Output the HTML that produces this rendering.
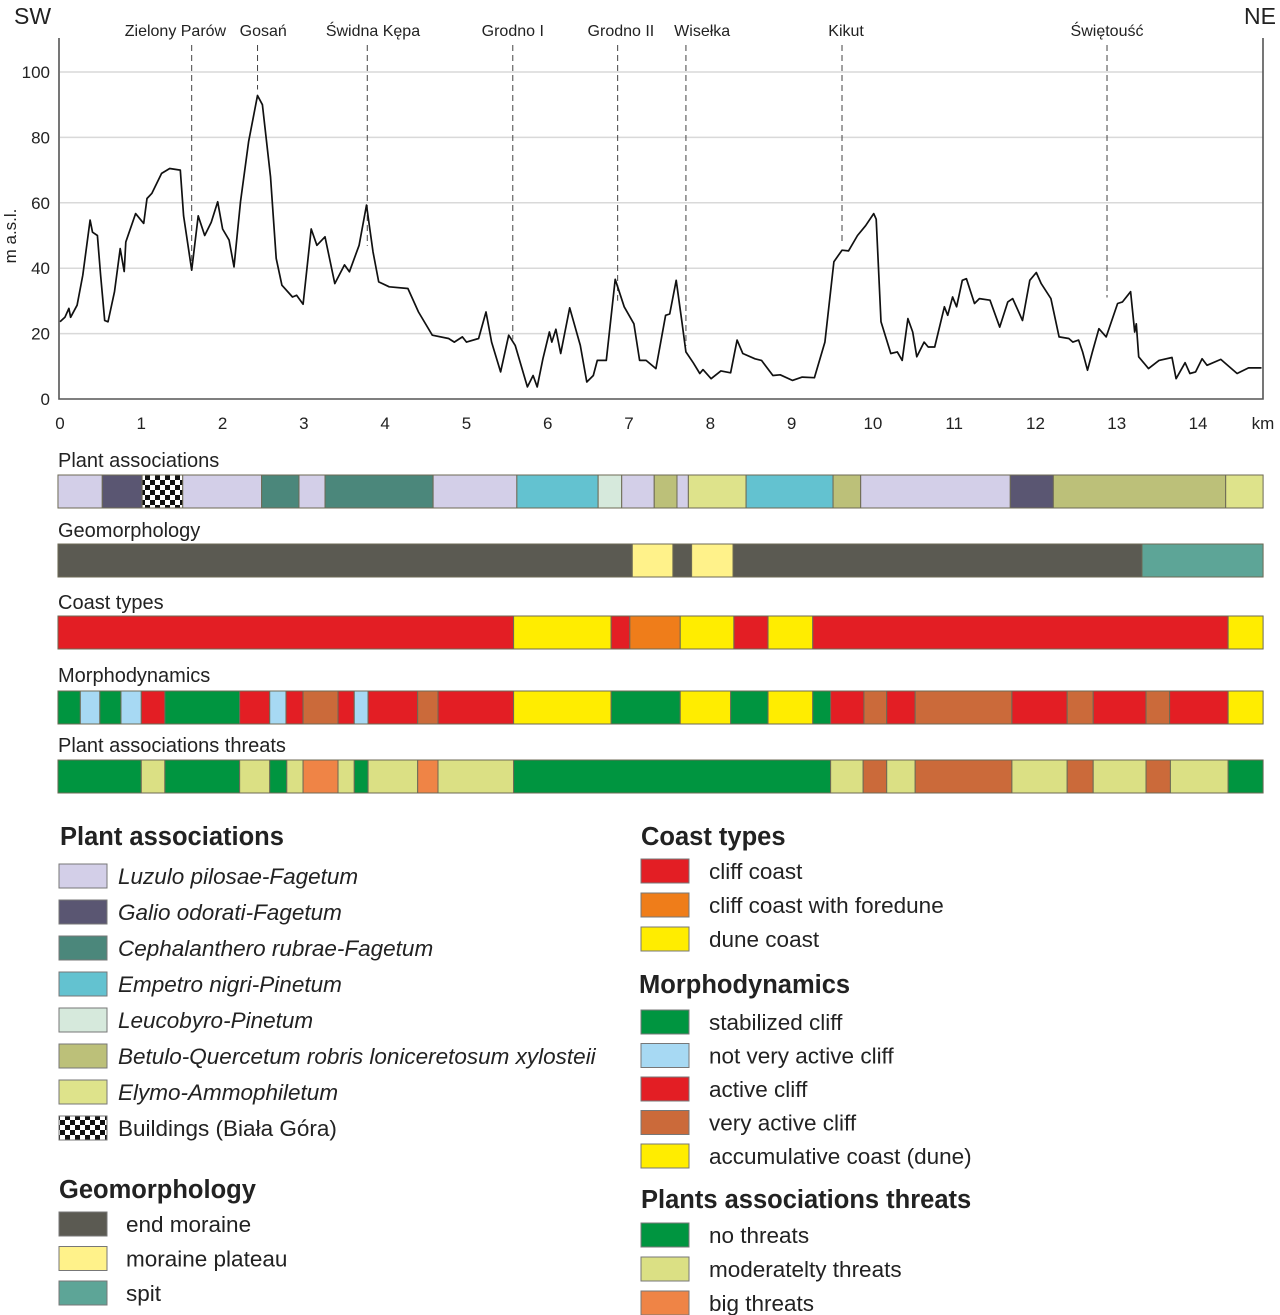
<!DOCTYPE html>
<html><head><meta charset="utf-8">
<style>
html,body{margin:0;padding:0;background:#fff;}
svg{display:block;font-family:"Liberation Sans",Arial,sans-serif;}
</style></head>
<body>
<svg id="chart" width="1280" height="1315" viewBox="0 0 1280 1315" xmlns="http://www.w3.org/2000/svg">
<defs>
<pattern id="checker" x="0" y="0" width="10" height="10" patternUnits="userSpaceOnUse">
<rect width="10" height="10" fill="#fff"/><rect width="5" height="5" fill="#111"/><rect x="5" y="5" width="5" height="5" fill="#111"/>
</pattern>
</defs>
<g id="grid"></g>
<g id="plot"></g>
<g id="bars"></g>
<g id="legend"></g>
</svg>
<script>
// ---- DATA ----
const profileKm=[0,0.06,0.11,0.13,0.21,0.28,0.37,0.40,0.46,0.50,0.55,0.59,0.67,0.74,0.79,0.81,0.93,1.03,1.07,1.13,1.25,1.35,1.48,1.52,1.62,1.70,1.78,1.86,1.94,2.00,2.08,2.14,2.22,2.32,2.43,2.49,2.59,2.66,2.73,2.86,2.91,2.99,3.09,3.16,3.26,3.38,3.50,3.56,3.68,3.77,3.85,3.92,4.05,4.28,4.41,4.58,4.78,4.85,4.95,5.0,5.15,5.24,5.31,5.42,5.52,5.60,5.75,5.82,5.87,5.94,6.02,6.05,6.10,6.16,6.27,6.40,6.48,6.56,6.61,6.72,6.83,6.94,7.06,7.13,7.21,7.33,7.45,7.50,7.58,7.65,7.70,7.79,7.87,7.91,8.01,8.13,8.25,8.33,8.40,8.55,8.63,8.77,8.86,9.01,9.13,9.28,9.41,9.52,9.62,9.70,9.81,9.91,10.01,10.04,10.10,10.22,10.30,10.36,10.43,10.49,10.54,10.63,10.68,10.76,10.88,10.92,10.98,11.03,11.10,11.15,11.25,11.31,11.44,11.56,11.66,11.72,11.84,11.93,12.01,12.07,12.19,12.29,12.41,12.46,12.53,12.58,12.64,12.70,12.78,12.87,13.01,13.07,13.17,13.22,13.24,13.27,13.39,13.52,13.68,13.73,13.84,13.90,13.97,14.05,14.11,14.28,14.48,14.62,14.78];
const profileM=[23.6,25,27.7,25,28.7,37.9,54.7,51,50,37.9,24,23.6,32.8,46,39,48,56.7,53.7,61.3,62.9,69,70.5,70,56,39.4,56,50,54,60.3,52,48.6,40.4,60.3,78.7,92.8,90,68,43,34.8,31.2,31.7,29,52,47,49.6,35.3,41,38.9,47,59.3,45,35.8,34.3,33.8,26.6,19.5,18.5,17.4,19,17.4,18.5,26.6,17.4,8.3,19.5,16.4,3.7,7.2,3.7,12.3,20.5,17.4,21.3,13.9,27.9,16.4,5.2,7.2,11.8,11.8,36.6,28.2,23,11.8,11.8,9.3,25.6,26,36.3,23.6,14.4,11.1,7.8,9,6.2,8.6,8,18,13.9,12.3,11.8,7.2,7.4,5.7,6.7,6.5,17.4,42,45.5,45.3,50,53,56.7,55,23.6,13.9,14.4,11.8,24.6,20.5,12.9,17.4,15.9,15.9,28.2,25.6,31.2,28.2,36.3,36.8,29.2,30.7,30.2,22,29.7,30.7,24,36.3,38.7,35.3,30.7,19,18.5,17.4,18,14.4,8.8,14.4,21.5,19,29.2,29.7,32.8,20.5,23,12.9,9.3,11.8,12.7,6.2,11.1,7.8,8.3,12.3,10.3,12.1,7.8,9.5,9.5];
const xTicks=[0,1,2,3,4,5,6,7,8,9,10,11,12,13,14];
const yTicks=[0,20,40,60,80,100];
const placeNames=["Zielony Parów","Gosań","Świdna Kępa","Grodno I","Grodno II","Wisełka","Kikut","Świętouść"];
const placeKm=[1.62,2.43,3.78,5.57,6.86,7.70,9.62,12.88];
const placeLabelKm=[1.42,2.50,3.85,5.57,6.90,7.90,9.67,12.88];

const barTitles=["Plant associations","Geomorphology","Coast types","Morphodynamics","Plant associations threats"];
const plantEnds=[0.52,1.01,1.51,2.48,2.94,3.26,4.59,5.62,6.62,6.91,7.31,7.59,7.73,8.44,9.51,9.85,11.69,12.22,14.34,14.80];
const plantCats=["luz","gal","bld","luz","cep","luz","cep","luz","emp","leu","luz","bet","luz","ely","emp","bet","luz","gal","bet","ely"];
const geoEnds=[7.04,7.54,7.77,8.28,13.31,14.80];
const geoCats=["end","pla","end","pla","end","spit"];
const coastEnds=[5.58,6.78,7.01,7.63,8.29,8.71,9.26,14.37,14.80];
const coastCats=["cc","dc","cc","cf","dc","cc","dc","cc","dc"];
const morphEnds=[0.25,0.49,0.75,1.00,1.29,2.21,2.58,2.78,2.99,3.42,3.62,3.79,4.40,4.65,5.58,6.78,7.63,8.25,8.71,9.26,9.48,9.89,10.17,10.52,11.71,12.39,12.71,13.36,13.65,14.37,14.80];
const morphCats=["st","nv","st","nv","ac","st","ac","nv","ac","va","ac","nv","ac","va","ac","acc","st","acc","st","acc","st","ac","va","ac","va","ac","va","ac","va","ac","acc"];
const threatEnds=[1.00,1.29,2.21,2.58,2.79,2.99,3.42,3.62,3.79,4.40,4.65,5.58,9.48,9.88,10.17,10.52,11.71,12.39,12.71,13.36,13.66,14.37,14.80];
const threatCats=["no","mod","no","mod","no","mod","big","mod","no","mod","big","mod","no","mod","vb","mod","vb","mod","vb","mod","vb","mod","no"];

const plantLegendKeys=["luz","gal","cep","emp","leu","bet","ely","bld"];
const plantLegendLabels=["Luzulo pilosae-Fagetum","Galio odorati-Fagetum","Cephalanthero rubrae-Fagetum","Empetro nigri-Pinetum","Leucobyro-Pinetum","Betulo-Quercetum robris loniceretosum xylosteii","Elymo-Ammophiletum","Buildings (Biała Góra)"];
const geoLegendKeys=["end","pla","spit"];
const geoLegendLabels=["end moraine","moraine plateau","spit"];
const coastLegendKeys=["cc","cf","dc"];
const coastLegendLabels=["cliff coast","cliff coast with foredune","dune coast"];
const morphLegendKeys=["st","nv","ac","va","acc"];
const morphLegendLabels=["stabilized cliff","not very active cliff","active cliff","very active cliff","accumulative coast (dune)"];
const threatLegendKeys=["no","mod","big"];
const threatLegendLabels=["no threats","moderatelty threats","big threats"];

const colors={luz:"#d3cfe8",gal:"#5a5672",bld:"url(#checker)",cep:"#4b877b",emp:"#63c2d0",leu:"#d6e9dc",bet:"#bcc079",ely:"#dee38b",
end:"#5b5a52",pla:"#fff28a",spit:"#5da597",cc:"#e31e24",cf:"#ef7d1a",dc:"#ffed00",
st:"#009540",nv:"#a7d9f3",ac:"#e31e24",va:"#cb6a3a",acc:"#ffed00",no:"#009540",mod:"#dbe084",big:"#ef8446",vb:"#cb6a3a"};

// ---- SCALES ----
const X0=60, PXKM=81.29, Y0=399, PXM=3.27;
const xs=k=>X0+k*PXKM;
const ys=m=>Y0-m*PXM;
const NS="http://www.w3.org/2000/svg";
function mk(tag,attrs,parent,text){const e=document.createElementNS(NS,tag);for(const k in attrs)e.setAttribute(k,attrs[k]);if(text!==undefined)e.textContent=text;parent.appendChild(e);return e;}
const grid=document.getElementById('grid'),plot=document.getElementById('plot'),bars=document.getElementById('bars'),legend=document.getElementById('legend');

yTicks.forEach(v=>{
  if(v>0){const l=mk('line',{x1:X0,x2:1263,y1:ys(v),y2:ys(v),stroke:"#d9d9d9","stroke-width":1.5},grid);
  
  }
  const t=mk('text',{x:50,y:ys(v)+6,"font-size":17,"text-anchor":"end",fill:"#222"},grid,String(v));
  
  
});
xTicks.forEach(v=>{
  const t=mk('text',{x:xs(v),y:429,"font-size":17,"text-anchor":"middle",fill:"#222"},grid,String(v));
  
  
});
let t=mk('text',{x:1263,y:429,"font-size":17,"text-anchor":"middle",fill:"#222"},grid,"km");


t=mk('text',{x:16,y:236,"font-size":17,"text-anchor":"middle",fill:"#222",transform:"rotate(-90 16 236)"},grid,"m a.s.l.");


t=mk('text',{x:14,y:24,"font-size":23,fill:"#222"},grid,"SW");


t=mk('text',{x:1244,y:24,"font-size":23,fill:"#222"},grid,"NE");



let fr=mk('path',{d:`M${X0-1},38 V${Y0} H1263 V38`,fill:"none",stroke:"#555","stroke-width":1.6},plot);



placeNames.forEach((n,i)=>{
  const idx=profileKm.findIndex(k=>k>=placeKm[i]);
  const m=profileM[Math.max(0,idx)];
  const l=mk('line',{x1:xs(placeKm[i]),x2:xs(placeKm[i]),y1:45,y2:ys(m)-6,stroke:"#444","stroke-width":1,"stroke-dasharray":"6 4"},plot);
  
  
  const tx=mk('text',{x:xs(placeLabelKm[i]),y:36,"font-size":16,"text-anchor":"middle",fill:"#222"},plot,n);
  
  
});

const d=profileKm.map((k,i)=>(i?'L':'M')+xs(k).toFixed(1)+','+ys(profileM[i]).toFixed(1)).join(' ');
const pl=mk('path',{d:d,fill:"none",stroke:"#111","stroke-width":1.7,"stroke-linejoin":"round"},plot);



const barY=[475,544,616,691,760], titleY=[467,537,609,682,752];
const barEnds=[plantEnds,geoEnds,coastEnds,morphEnds,threatEnds];
const barCats=[plantCats,geoCats,coastCats,morphCats,threatCats];
barTitles.forEach((title,b)=>{
  const tt=mk('text',{x:58,y:titleY[b],"font-size":20,fill:"#222"},bars,title);
  
  
  let start=-0.025;
  barEnds[b].forEach((e,i)=>{
    const r=mk('rect',{x:xs(start),y:barY[b],width:xs(e)-xs(start),height:33,fill:colors[barCats[b][i]],stroke:"#6d6a55","stroke-width":1},bars);
    
    
    start=e;
  });
});

function legendBlock(title,tx,ty,keys,labels,sx,textX,rowY0,gap,italic){
  const h=mk('text',{x:tx,y:ty,"font-size":25.5,"font-weight":"bold",fill:"#222"},legend,title);
  
  
  keys.forEach((k,i)=>{
    const cy=rowY0+i*gap;
    const r=mk('rect',{x:sx,y:cy-12,width:48,height:24,fill:colors[k],stroke:"#777","stroke-width":1},legend);
    
    
    const it=italic && k!=="bld";
    const l=mk('text',{x:textX,y:cy+8,"font-size":22.5,"font-style":it?"italic":"normal",fill:"#222"},legend,labels[i]);
    
    
  });
}
legendBlock("Plant associations",60,845,plantLegendKeys,plantLegendLabels,59,118,876,36,true);
legendBlock("Geomorphology",59,1198,geoLegendKeys,geoLegendLabels,59,126,1224,34.5,false);
legendBlock("Coast types",641,845,coastLegendKeys,coastLegendLabels,641,709,871,34,false);
legendBlock("Morphodynamics",639,993,morphLegendKeys,morphLegendLabels,641,709,1022,33.5,false);
legendBlock("Plants associations threats",641,1208,threatLegendKeys,threatLegendLabels,641,709,1235,34,false);
</script>
</body></html>
